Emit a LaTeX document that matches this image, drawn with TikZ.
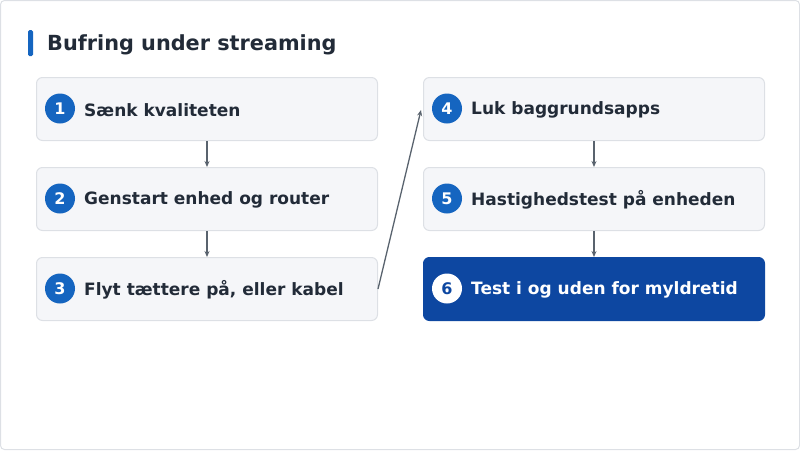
\documentclass[tikz,border=0pt]{standalone}
\usepackage{fontspec}
\setmainfont{DejaVu Sans}
\usetikzlibrary{arrows.meta}
\definecolor{boxbg}{HTML}{F5F6F9}
\definecolor{boxln}{HTML}{DDE0E5}
\definecolor{blue1}{HTML}{1565C0}
\definecolor{dark}{HTML}{0D47A1}
\definecolor{txt}{HTML}{222B38}
\definecolor{arr}{HTML}{59636E}
\begin{document}
\begin{tikzpicture}[x=1pt,y=-1pt,
 box/.style={draw=boxln,fill=boxbg,rounded corners=6pt,line width=1pt,minimum width=341pt,minimum height=63pt,anchor=north west,inner sep=0},
 hl/.style={box,draw=dark,fill=dark},
 num/.style={circle,fill=blue1,text=white,minimum size=30pt,inner sep=0,font=\bfseries\fontsize{16}{16}\selectfont},
 hnum/.style={num,fill=white,text=dark},
 lab/.style={anchor=west,inner sep=0,text=txt,font=\bfseries\fontsize{17}{20}\selectfont},
 con/.style={draw=arr,line width=1.3pt,-{Stealth[length=6pt,width=5pt]}}]
\useasboundingbox (0,0) rectangle (800,450);
\draw[boxln,line width=1pt,rounded corners=4pt] (0.5,0.5) rectangle (799.5,449.5);
\fill[blue1,rounded corners=1.5pt] (28,30) rectangle (33,56);
\node[anchor=west,inner sep=0,text=txt,font=\bfseries\fontsize{20.8}{24}\selectfont] (title) at (47,45) {Bufring under streaming};
\foreach \i/\x/\y/\t in {1/36/77/Sænk kvaliteten,2/36/167/Genstart enhed og router,3/36/257/{Flyt tættere på, eller kabel},4/423/77/Luk baggrundsapps,5/423/167/Hastighedstest på enheden}{
 \node[box] (b\i) at (\x,\y) {};
 \node[num] (n\i) at (\x+24,\y+31.5) {\i};
 \node[lab] (t\i) at (\x+48,\y+33) {\t};
}
\node[hl] (b6) at (423,257) {};
\node[hnum] (n6) at (447,288.5) {6};
\node[lab,text=white] (t6) at (471,290) {Test i og uden for myldretid};
\draw[con] (b1.south) -- (b2.north);
\draw[con] (b2.south) -- (b3.north);
\draw[con] (b4.south) -- (b5.north);
\draw[con] (b5.south) -- (b6.north);
\draw[con] (b3.east) -- ([xshift=-2pt,yshift=-1pt]b4.west);
\end{tikzpicture}
\end{document}
